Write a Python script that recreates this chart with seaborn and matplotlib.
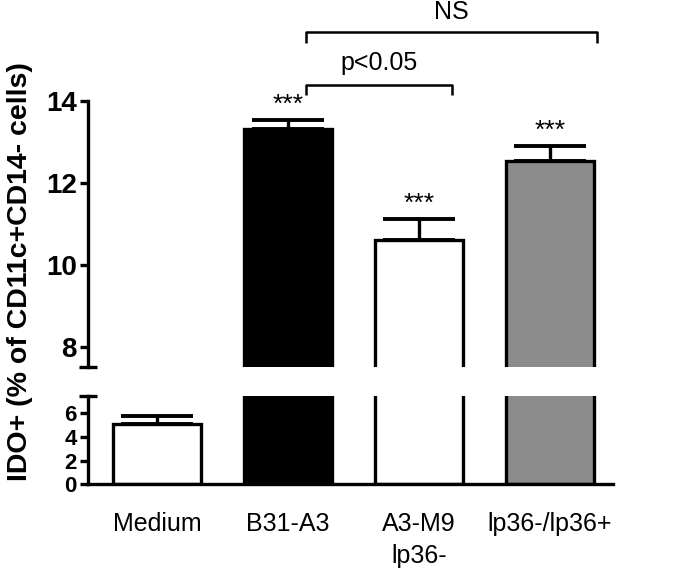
import matplotlib
matplotlib.use("Agg")
import matplotlib.pyplot as plt
import matplotlib.transforms as mtransforms
import seaborn as sns
import pandas as pd

sns.set_style("ticks")
plt.rcParams['font.family'] = ['Liberation Sans', 'DejaVu Sans']
for k in ["text.color", "axes.labelcolor", "xtick.color", "ytick.color", "axes.edgecolor"]:
    plt.rcParams[k] = "black"

# data
groups = ["Medium", "B31-A3", "A3-M9\nlp36-", "lp36-/lp36+"]
means = [5.08, 13.32, 10.61, 12.54]
sem = [0.68, 0.22, 0.51, 0.36]
bar_colors = ["white", "black", "white", "#8c8c8c"]
stars = ["", "***", "***", "***"]

df = pd.DataFrame({"group": groups, "value": means})

fig = plt.figure(figsize=(6.77, 5.8), dpi=100)
ax_top = fig.add_axes([0.130, 0.367, 0.775, 0.459])
ax_bot = fig.add_axes([0.130, 0.1655, 0.775, 0.152])

lw = 2.4
for ax in (ax_top, ax_bot):
    sns.barplot(data=df, x="group", y="value", hue="group", palette=bar_colors,
                edgecolor="black", linewidth=lw, width=0.67, legend=False, ax=ax)
    ax.errorbar(range(len(groups)), means, yerr=[[0] * len(sem), sem], fmt="none",
                ecolor="black", elinewidth=lw, capsize=26, capthick=2.8)
    ax.set_xlim(-0.527, 3.48)
    ax.set_xlabel("")
    ax.set_ylabel("")
    for s in ["top", "right"]:
        ax.spines[s].set_visible(False)
    ax.spines["left"].set_linewidth(lw)
    ax.spines["bottom"].set_linewidth(lw)
    ax.tick_params(axis="y", length=6, width=lw, pad=2)

# upper segment
ax_top.set_ylim(7.5, 14)
ax_top.set_yticks([8, 10, 12, 14])
ax_top.set_yticklabels(["8", "10", "12", "14"], fontsize=20, fontweight="bold")
ax_top.spines["bottom"].set_visible(False)
ax_top.tick_params(axis="x", bottom=False, labelbottom=False)

# lower segment
ax_bot.set_ylim(0, 7.5)
ax_bot.set_yticks([0, 2, 4, 6])
ax_bot.set_yticklabels(["0", "2", "4", "6"], fontsize=16, fontweight="bold")
ax_bot.tick_params(axis="x", length=0, pad=20, labelsize=18)
for lab in ax_bot.get_xticklabels():
    lab.set_linespacing(1.45)

# break caps at the axis ends
for ax in (ax_top, ax_bot):
    tr = mtransforms.blended_transform_factory(ax.transAxes, ax.transData)
    ax.plot([0], [7.5], marker="_", markersize=13, mew=lw, color="black",
            transform=tr, clip_on=False)

# significance stars
for i, (m, e, s) in enumerate(zip(means, sem, stars)):
    if s:
        ax_top.text(i, m + e + 0.08, s, ha="center", va="bottom", fontsize=19)

# brackets
def bracket(x1, x2, y, h, label, ty):
    ax_top.plot([x1, x1, x2, x2], [y - h, y, y, y - h], color="black", lw=1.8,
                clip_on=False, solid_capstyle="butt")
    ax_top.text((x1 + x2) / 2, ty, label, ha="center", va="center", fontsize=18)

bracket(1.14, 2.25, 14.39, 0.25, "p<0.05", 14.93)
bracket(1.14, 3.36, 15.68, 0.27, "NS", 16.17)

fig.text(0.030, 1 - 272 / 580, "IDO+ (% of CD11c+CD14- cells)", rotation=90,
         ha="center", va="center", fontsize=20.5, fontweight="bold")

fig.savefig("out.png", dpi=100)
